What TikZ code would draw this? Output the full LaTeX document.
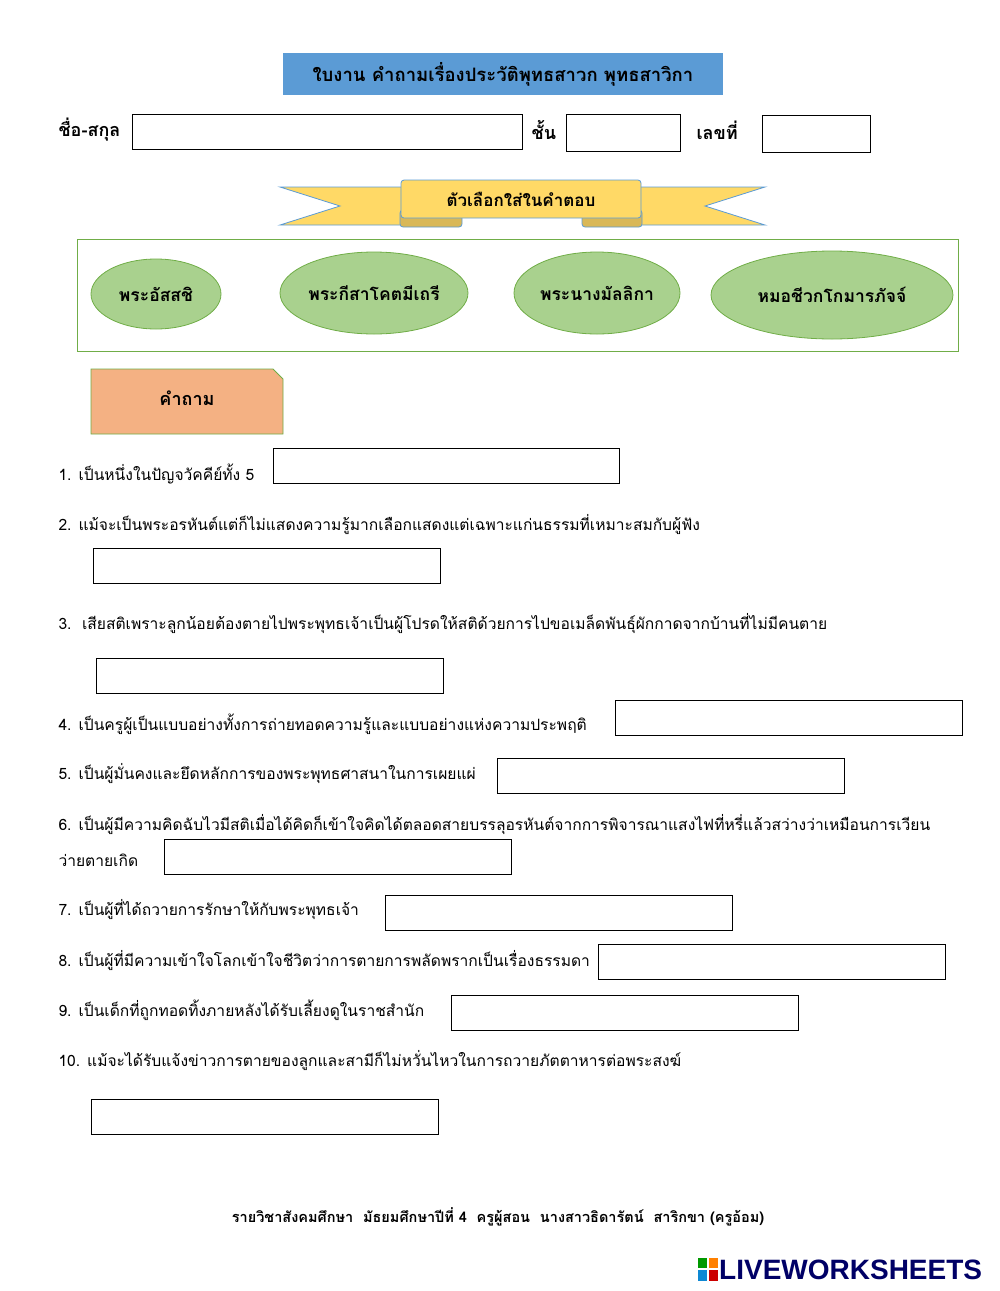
\documentclass[tikz,border=0pt]{standalone}
\usepackage{fontspec}
\setmainfont{Loma}[Script=Thai]
\usetikzlibrary{shapes.geometric}
\definecolor{tblue}{HTML}{5B9BD5}
\definecolor{gold}{HTML}{FFD966}
\definecolor{gfill}{HTML}{A9D18E}
\definecolor{gline}{HTML}{70AD47}
\definecolor{orng}{HTML}{F4B183}
\tikzset{ans/.style={draw,thick,minimum height=35pt,anchor=west},
 opt/.style={ellipse,draw=gline,thick,fill=gfill,inner sep=0pt,font=\bfseries\fontsize{17.5}{20}\selectfont},
 q/.style={anchor=west,font=\fontsize{15.6}{18}\selectfont}}
\begin{document}
\begin{tikzpicture}[x=1pt,y=-1pt]
\useasboundingbox (0,0) rectangle (1000,1291);
\node[fill=tblue,minimum width=440pt,minimum height=42pt,font=\bfseries\fontsize{18.5}{20}\selectfont] (title) at (503,74) {ใบงาน คำถามเรื่องประวัติพุทธสาวก พุทธสาวิกา};
\node[anchor=west,font=\bfseries\fontsize{18}{20}\selectfont] (nm) at (55,130) {ชื่อ-สกุล};
\node[ans,minimum width=390pt] (b1) at (132,132) {};
\node[anchor=west,font=\bfseries\fontsize{18}{20}\selectfont] (cl) at (528,130) {ชั้น};
\node[ans,minimum width=114pt,minimum height=37pt] (b2) at (566,133) {};
\node[anchor=west,font=\bfseries\fontsize{18}{20}\selectfont] (no) at (693,130) {เลขที่};
\node[ans,minimum width=108pt,minimum height=37pt] (b3) at (762,134) {};
% ribbon
\draw[tblue,thick,fill=gold] (280,187)--(420,187)--(420,225)--(280,225)--(340,206)--cycle;
\draw[tblue,thick,fill=gold] (765,187)--(625,187)--(625,225)--(765,225)--(705,206)--cycle;
\draw[tblue,thick,fill=gold!85!black,rounded corners=3pt] (400,210) rectangle (462,227);
\draw[tblue,thick,fill=gold!85!black,rounded corners=3pt] (582,210) rectangle (642,227);
\node[draw=tblue,thick,fill=gold,minimum width=240pt,minimum height=38pt,rounded corners=3pt,font=\bfseries\fontsize{17}{19}\selectfont] (rib) at (521,199) {ตัวเลือกใส่ในคำตอบ};
\node[draw=gline,thick,minimum width=881pt,minimum height=112pt] (frame) at (518,295) {};
\node[opt,minimum width=130pt,minimum height=70pt] (o1) at (156,294) {พระอัสสชิ};
\node[opt,minimum width=188pt,minimum height=82pt] (o2) at (374,293) {พระกีสาโคตมีเถรี};
\node[opt,minimum width=166pt,minimum height=82pt] (o3) at (597,293) {พระนางมัลลิกา};
\node[opt,minimum width=242pt,minimum height=88pt] (o4) at (832,295) {หมอชีวกโกมารภัจจ์};
\draw[gline,thick,fill=orng] (91,369)--(273,369)--(283,379)--(283,434)--(91,434)--cycle;
\node[font=\bfseries\fontsize{18}{20}\selectfont] (kq) at (187,398) {คำถาม};
\node[q] (q1) at (55,474) {1. เป็นหนึ่งในปัญจวัคคีย์ทั้ง 5};
\node[ans,minimum width=346pt] (a1) at (273,466) {};
\node[q] (q2) at (55,525) {2. แม้จะเป็นพระอรหันต์แต่ก็ไม่แสดงความรู้มากเลือกแสดงแต่เฉพาะแก่นธรรมที่เหมาะสมกับผู้ฟัง};
\node[ans,minimum width=347pt] (a2) at (93,566) {};
\node[q] (q3) at (55,624) {3.\ \ เสียสติเพราะลูกน้อยต้องตายไปพระพุทธเจ้าเป็นผู้โปรดให้สติด้วยการไปขอเมล็ดพันธุ์ผักกาดจากบ้านที่ไม่มีคนตาย};
\node[ans,minimum width=347pt] (a3) at (96,676) {};
\node[q] (q4) at (55,724) {4. เป็นครูผู้เป็นแบบอย่างทั้งการถ่ายทอดความรู้และแบบอย่างแห่งความประพฤติ};
\node[ans,minimum width=347pt] (a4) at (615,718) {};
\node[q] (q5) at (55,774) {5. เป็นผู้มั่นคงและยึดหลักการของพระพุทธศาสนาในการเผยแผ่};
\node[ans,minimum width=347pt] (a5) at (497,776) {};
\node[q] (q6) at (55,825) {6. เป็นผู้มีความคิดฉับไวมีสติเมื่อได้คิดก็เข้าใจคิดได้ตลอดสายบรรลุอรหันต์จากการพิจารณาแสงไฟที่หรี่แล้วสว่างว่าเหมือนการเวียน};
\node[q] (q6b) at (55,860) {ว่ายตายเกิด};
\node[ans,minimum width=347pt] (a6) at (164,857) {};
\node[q] (q7) at (55,910) {7. เป็นผู้ที่ได้ถวายการรักษาให้กับพระพุทธเจ้า};
\node[ans,minimum width=347pt] (a7) at (385,913) {};
\node[q] (q8) at (55,960) {8. เป็นผู้ที่มีความเข้าใจโลกเข้าใจชีวิตว่าการตายการพลัดพรากเป็นเรื่องธรรมดา};
\node[ans,minimum width=347pt] (a8) at (598,962) {};
\node[q] (q9) at (55,1010) {9. เป็นเด็กที่ถูกทอดทิ้งภายหลังได้รับเลี้ยงดูในราชสำนัก};
\node[ans,minimum width=347pt] (a9) at (451,1013) {};
\node[q] (q10) at (55,1060) {10. แม้จะได้รับแจ้งข่าวการตายของลูกและสามีก็ไม่หวั่นไหวในการถวายภัตตาหารต่อพระสงฆ์};
\node[ans,minimum width=347pt] (a10) at (91,1117) {};
\node[font=\bfseries\fontsize{14.5}{16}\selectfont] (foot) at (498,1217) {รายวิชาสังคมศึกษา\ \ มัธยมศึกษาปีที่ 4\ \ ครูผู้สอน\ \ นางสาวธิดารัตน์\ \ สาริกขา (ครูอ้อม)};
\fill[green!60!black] (698,1258) rectangle (707,1268);
\fill[orange] (709,1258) rectangle (718,1268);
\fill[cyan!70!blue] (698,1270) rectangle (707,1281);
\fill[red!80!black] (709,1270) rectangle (718,1281);
\node[anchor=west,inner sep=0,text=blue!40!black,font=\fontspec{Liberation Sans}\bfseries\fontsize{28}{30}\selectfont] (logo) at (719,1270) {LIVEWORKSHEETS};
\end{tikzpicture}
\end{document}
